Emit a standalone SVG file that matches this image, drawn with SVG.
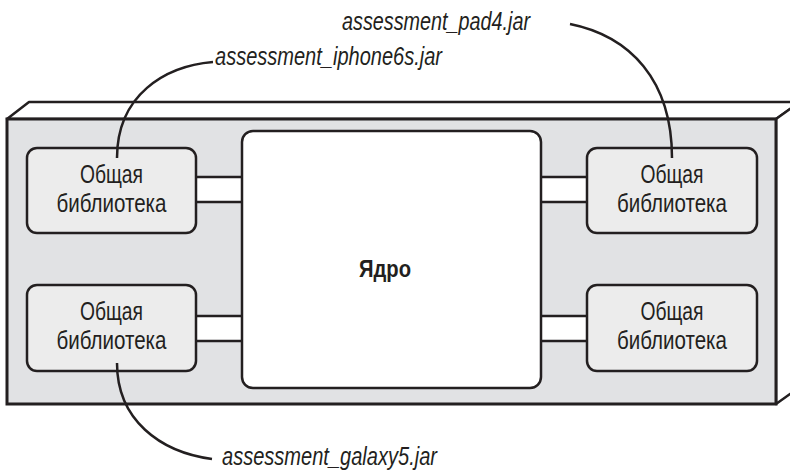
<svg xmlns="http://www.w3.org/2000/svg" width="790" height="474" viewBox="0 0 790 474">
<style>
.edge{fill:#fff;stroke:#231f20;stroke-width:2.5;stroke-linejoin:round}
.face{fill:#e1e2e4;stroke:#231f20;stroke-width:3}
.bar{fill:#fff;stroke:#231f20;stroke-width:2.5}
.lib{fill:#ececec;stroke:#231f20;stroke-width:2.5}
.core{fill:#fff;stroke:#231f20;stroke-width:2.5}
.t{font-family:"Liberation Sans Narrow","Liberation Sans",sans-serif;font-size:26px;fill:#231f20;text-anchor:middle}
.b{font-weight:bold;font-size:23px}
.lab{font-family:"Liberation Sans Narrow","Liberation Sans",sans-serif;font-style:italic;font-size:25px;fill:#231f20}
.con{fill:none;stroke:#231f20;stroke-width:2.5}
</style>
<g id="frame">
<polygon class="edge" points="7,119 29,102 800,102 776,119"/>
<polygon class="edge" points="776,119 800,102 800,387 776,404"/>
<rect class="face" x="7" y="119" width="769" height="285"/>
</g>
<g id="bars">
<rect class="bar" x="190" y="177" width="58" height="25"/>
<rect class="bar" x="190" y="316" width="58" height="25"/>
<rect class="bar" x="535" y="177" width="58" height="25"/>
<rect class="bar" x="535" y="316" width="58" height="25"/>
</g>
<g id="core">
<rect class="core" x="242" y="131" width="299" height="257" rx="11"/>
<text class="t b" x="385" y="277" textLength="52" lengthAdjust="spacingAndGlyphs">Ядро</text>
</g>
<g id="lib-tl">
<rect class="lib" x="27" y="148" width="169" height="85" rx="10"/>
<text class="t" x="111.5" y="183" textLength="63" lengthAdjust="spacingAndGlyphs">Общая</text>
<text class="t" x="111.5" y="212" textLength="110" lengthAdjust="spacingAndGlyphs">библиотека</text>
</g>
<g id="lib-bl">
<rect class="lib" x="27" y="285" width="169" height="86" rx="10"/>
<text class="t" x="111.5" y="320" textLength="63" lengthAdjust="spacingAndGlyphs">Общая</text>
<text class="t" x="111.5" y="349" textLength="110" lengthAdjust="spacingAndGlyphs">библиотека</text>
</g>
<g id="lib-tr">
<rect class="lib" x="587" y="148" width="170" height="85" rx="10"/>
<text class="t" x="672" y="183" textLength="63" lengthAdjust="spacingAndGlyphs">Общая</text>
<text class="t" x="672" y="212" textLength="110" lengthAdjust="spacingAndGlyphs">библиотека</text>
</g>
<g id="lib-br">
<rect class="lib" x="587" y="285" width="170" height="86" rx="10"/>
<text class="t" x="672" y="320" textLength="63" lengthAdjust="spacingAndGlyphs">Общая</text>
<text class="t" x="672" y="349" textLength="110" lengthAdjust="spacingAndGlyphs">библиотека</text>
</g>
<g id="connectors">
<path class="con" d="M213,62 C165,66 117,95 117,158"/>
<path class="con" d="M570,24 C630,36 672,80 672,158"/>
<path class="con" d="M117,363 C117,420 160,452 212,459"/>
</g>
<g id="labels">
<text class="lab" x="342" y="30" textLength="188" lengthAdjust="spacingAndGlyphs">assessment_pad4.jar</text>
<text class="lab" x="215" y="65" textLength="227" lengthAdjust="spacingAndGlyphs">assessment_iphone6s.jar</text>
<text class="lab" x="222" y="465" textLength="215" lengthAdjust="spacingAndGlyphs">assessment_galaxy5.jar</text>
</g>
</svg>
